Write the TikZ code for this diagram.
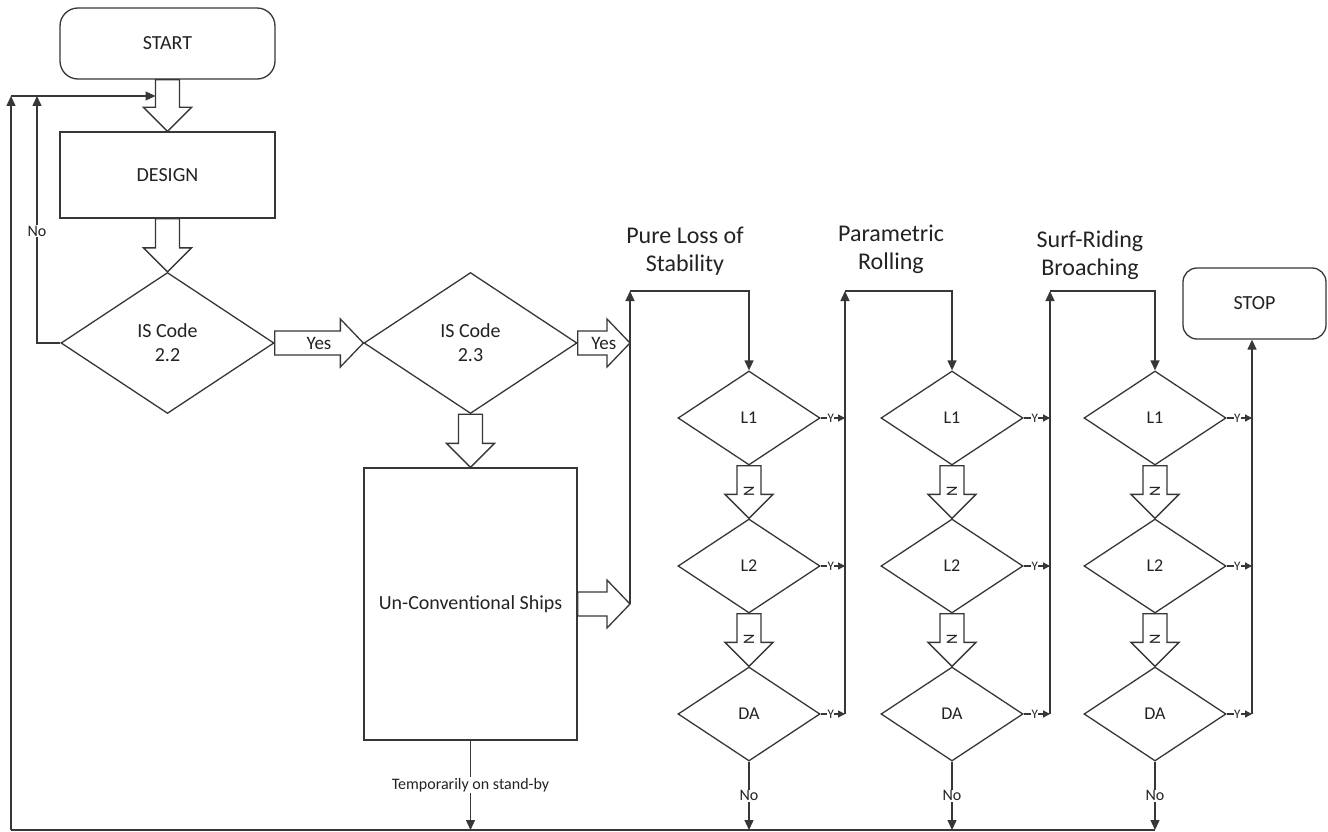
\documentclass[tikz,border=0pt]{standalone}
\usepackage{fontspec}
\setmainfont{Carlito}
\usetikzlibrary{shapes.geometric,arrows.meta,calc}
\definecolor{ln}{RGB}{55,55,55}
\definecolor{tx}{RGB}{35,35,35}
\tikzset{
  every node/.style={text=tx},
  line/.style={draw=ln, line width=1.3pt},
  arr/.style={line, -{Triangle[length=10pt,width=9pt]}},
  yarr/.style={line, -{Triangle[length=7pt,width=7pt]}},
  term/.style={line, rectangle, rounded corners=18pt, font=\fontsize{20}{22}\selectfont},
  proc/.style={line, rectangle, font=\fontsize{20}{22}\selectfont},
  bigdia/.style={line, diamond, inner sep=0pt, minimum width=213pt, minimum height=141pt, align=center, font=\fontsize{20}{24}\selectfont},
  smdia/.style={line, diamond, inner sep=0pt, minimum width=142pt, minimum height=94pt, font=\fontsize{18}{20}\selectfont},
  title/.style={align=center, font=\fontsize{24}{28}\selectfont},
  block/.style={line, line join=miter},
  lbl/.style={fill=white, inner sep=1pt, font=\fontsize{16}{18}\selectfont},
  ylbl/.style={fill=white, inner sep=0.3pt, font=\fontsize{13}{14}\selectfont},
  nlbl/.style={inner sep=0pt, rotate=90, font=\fontsize{16}{17}\selectfont},
  blbl/.style={inner sep=0pt, font=\fontsize{19}{21}\selectfont},
}
\newcommand\bdown[2]{%
  \draw[block] ($(#1)+(-12,0)$) -- ($(#2)+(-12,-24)$) -- ($(#2)+(-24,-24)$) -- (#2)
    -- ($(#2)+(24,-24)$) -- ($(#2)+(12,-24)$) -- ($(#1)+(12,0)$) -- cycle;}
\newcommand\bdownN[2]{%
  \bdown{#1}{#2}\node[nlbl] at ($(#2)+(0,-27)$) {N};}
\newcommand\bright[3]{%
  \draw[block] ($(#1)+(0,-12)$) -- ($(#2)+(-23,-12)$) -- ($(#2)+(-23,-24)$) -- (#2)
    -- ($(#2)+(-23,24)$) -- ($(#2)+(-23,12)$) -- ($(#1)+(0,12)$) -- cycle;
  \node[blbl] at ($(#1)!0.5!(#2)$) {#3};}
\begin{document}
\begin{tikzpicture}[x=1pt,y=-1pt]
\useasboundingbox[fill=white] (0,0) rectangle (1328,832);

% main nodes
\node[term, minimum width=215pt, minimum height=71pt] (start) at (167.5,43.5) {START};
\node[proc, minimum width=215pt, minimum height=86pt] (design) at (167.5,175) {DESIGN};
\node[bigdia] (is22) at (167.5,343) {IS Code\\2.2};
\node[bigdia] (is23) at (470.5,343) {IS Code\\2.3};
\node[proc, minimum width=213pt, minimum height=272pt] (unconv) at (470.5,604) {Un-Conventional Ships};
\node[term, minimum width=143pt, minimum height=71pt, rounded corners=14pt] (stop) at (1254.5,303.5) {STOP};

% titles
\node[title] (t1) at (685,251) {Pure Loss of\\Stability};
\node[title] (t2) at (891,249) {Parametric\\Rolling};
\node[title] (t3) at (1090,255) {Surf-Riding\\Broaching};

% check diamonds
\foreach \c/\x in {a/749,b/952,c/1155}{
  \node[smdia] (L1\c) at (\x,418) {L1};
  \node[smdia] (L2\c) at (\x,566) {L2};
  \node[smdia] (DA\c) at (\x,714) {DA};
}

% coordinates
\coordinate (bl) at (11,830);
\coordinate (br) at (1155,830);
\coordinate (fbL) at (11,96);
\coordinate (fbI) at (37,96);
\coordinate (fbT) at (155.5,96);
\coordinate (y2tip) at (630,343);
\coordinate (r0b) at (630,604);
\coordinate (rt0) at (630,291);
\coordinate (rb1) at (845,714);
\coordinate (rt1) at (845,291);
\coordinate (rb2) at (1050,714);
\coordinate (rt2) at (1050,291);
\coordinate (rb3) at (1252,714);

% block arrows
\bdown{start.south}{design.north}
\bdown{design.south}{is22.north}
\bdown{is23.south}{unconv.north}
\bright{is22.east}{is23.west}{Yes}
\bright{is23.east}{y2tip}{Yes}
\bright{unconv.east}{r0b}{}
\foreach \c in {a,b,c}{
  \bdownN{L1\c.south}{L2\c.north}
  \bdownN{L2\c.south}{DA\c.north}
}

% feedback loops on the left
\draw[line] (bl) -- (br);
\draw[arr] (bl) -- (fbL);
\draw[arr] (fbL) -- (fbT);
\draw[arr] (is22.west) -- (is22.west -| fbI) -- node[pos=0.453, lbl] {No} (fbI);

% column entries
\draw[arr] (r0b) -- (rt0);
\draw[arr] (rt0) -- (rt0 -| L1a.north) -- (L1a.north);
\draw[arr] (rb1) -- (rt1);
\draw[arr] (rt1) -- (rt1 -| L1b.north) -- (L1b.north);
\draw[arr] (rb2) -- (rt2);
\draw[arr] (rt2) -- (rt2 -| L1c.north) -- (L1c.north);
\draw[arr] (rb3) -- (rb3 |- stop.south);

% Y exits
\foreach \c/\r in {a/rb1,b/rb2,c/rb3}{
  \foreach \d in {L1,L2,DA}{
    \draw[yarr] (\d\c.east) -- (\d\c.east -| \r) node[pos=0.42, ylbl] {Y};
  }
  \draw[arr] (DA\c.south) -- (DA\c.south |- bl) node[midway, lbl] {No};
}

% un-conventional stand-by
\draw[arr] (unconv.south) -- (unconv.south |- bl) node[midway, lbl] {Temporarily on stand-by};
\end{tikzpicture}
\end{document}
